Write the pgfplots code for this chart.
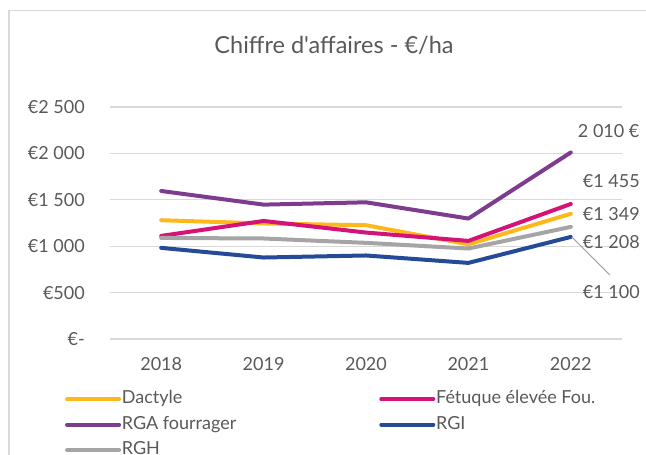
\documentclass[border=0pt]{standalone}
\usepackage{fontspec}
\setmainfont{Lato}[Ligatures=TeXOff]
\usepackage{pgfplots}
\pgfplotsset{compat=1.18}
\definecolor{txt}{HTML}{595959}
\definecolor{gridc}{HTML}{D9D9D9}
\definecolor{dact}{HTML}{FFB81C}
\definecolor{fetu}{HTML}{D51277}
\definecolor{rga}{HTML}{7D3C8E}
\definecolor{rgi}{HTML}{244A98}
\definecolor{rgh}{HTML}{A5A5A5}
\begin{document}
\begin{tikzpicture}[x=1pt,y=1pt]
\useasboundingbox (0,0) rectangle (646,455);
\clip (0,0) rectangle (646,455);
\draw[gridc, line width=1.2pt] (9,-20) -- (9,444.5) -- (700,444.5);
\node[text=txt, font=\fontsize{23.5}{27}\selectfont] at (334,410) {Chiffre d'affaires - €/ha};
\begin{axis}[
  at={(110pt,116pt)}, anchor=south west,
  scale only axis, width=512pt, height=232pt,
  xmin=-0.5, xmax=4.5, ymin=0, ymax=2500,
  clip=false,
  axis line style={draw=none},
  tick style={draw=none},
  ymajorgrids, grid style={gridc, line width=1.2pt},
  ytick={0,500,1000,1500,2000,2500},
  yticklabels={€-,€500,€1 000,€1 500,€2 000,€2 500},
  xtick={0,1,2,3,4},
  xticklabels={2018,2019,2020,2021,2022},
  ticklabel style={text=txt, font=\fontsize{18}{22}\selectfont},
  yticklabel style={anchor=east, inner sep=0pt, xshift=-25pt},
  xticklabel style={anchor=center, inner sep=0pt, yshift=-25pt},
  every axis plot/.append style={line width=4pt, line cap=round, line join=round},
  legend columns=2,
  legend cell align=left,
  legend image code/.code={\draw[line width=4pt, line cap=round] (0pt,0pt) -- (52pt,0pt);},
  legend style={draw=none, fill=none, at={(-0.094,-0.213)}, anchor=north west,
    font=\fontsize{18}{22}\selectfont, text=txt,
    nodes={inner sep=0pt, text height=13pt, text depth=4pt},
    row sep=8.5pt,
    /tikz/every odd column/.append style={column sep=0.8pt},
    /tikz/every even column/.append style={column sep=143pt}},
]
\addplot[dact] coordinates {(0,1280) (1,1245) (2,1226) (3,1020) (4,1349)};
\addlegendentry{Dactyle}
\addplot[fetu] coordinates {(0,1111) (1,1272) (2,1147) (3,1057) (4,1455)};
\addlegendentry{Fétuque élevée Fou.}
\addplot[rga] coordinates {(0,1595) (1,1448) (2,1473) (3,1298) (4,2010)};
\addlegendentry{RGA fourrager}
\addplot[rgi] coordinates {(0,982) (1,878) (2,900) (3,820) (4,1100)};
\addlegendentry{RGI}
\addplot[rgh] coordinates {(0,1089) (1,1083) (2,1036) (3,975) (4,1208)};
\addlegendentry{RGH}
\draw[rgh, line width=1pt] ([xshift=1pt]axis cs:4,1100) -- ([xshift=39pt,yshift=-38pt]axis cs:4,1100);
\begin{scope}[every node/.style={text=txt, font=\fontsize{18}{22}\selectfont, anchor=west, inner sep=0pt}]
\node at ([xshift=7pt,yshift=21pt]axis cs:4,2010) {2 010 €};
\node at ([xshift=12pt,yshift=23pt]axis cs:4,1455) {€1 455};
\node at ([xshift=12pt,yshift=0pt]axis cs:4,1349) {€1 349};
\node at ([xshift=12pt,yshift=-15pt]axis cs:4,1208) {€1 208};
\node at ([xshift=12pt,yshift=-55pt]axis cs:4,1100) {€1 100};
\end{scope}
\end{axis}
\end{tikzpicture}
\end{document}
